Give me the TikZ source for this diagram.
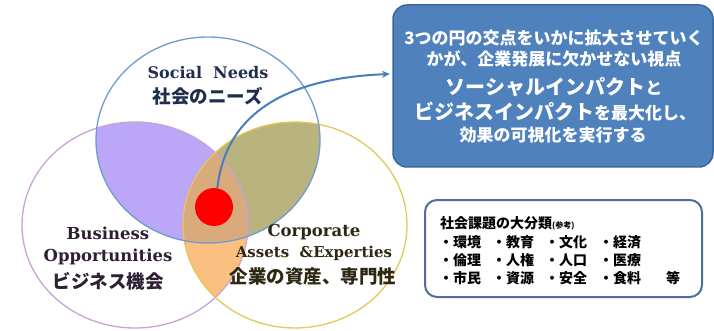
\documentclass[tikz,border=0pt]{standalone}
\usepackage{fontspec}
\setmainfont{DejaVu Serif}
\newfontfamily\jp{Noto Sans CJK JP}
\usetikzlibrary{arrows.meta}
\definecolor{lav}{HTML}{BBA6F7}
\definecolor{olv}{HTML}{B9B47D}
\definecolor{org}{HTML}{FAC080}
\definecolor{tanc}{HTML}{D9AA7C}
\definecolor{topline}{HTML}{6F9BD1}
\definecolor{leftline}{HTML}{C9A3D6}
\definecolor{rightline}{HTML}{E6C65C}
\definecolor{boxblue}{HTML}{4F81BD}
\definecolor{boxedge}{HTML}{3A679C}
\definecolor{arrowblue}{HTML}{4A7DBA}
\definecolor{framecol}{HTML}{4F6E9C}
\definecolor{navy}{HTML}{1F2D4F}
\definecolor{plum}{HTML}{2E1F33}
\definecolor{brownc}{HTML}{2E2812}
\tikzset{
  lbl/.style={inner sep=0pt, font=\bfseries\fontsize{16}{18}\selectfont},
  jplbl/.style={inner sep=0pt, font=\jp\bfseries\fontsize{18.5}{20}\selectfont},
  vline/.style={inner sep=0pt, text=white, font=\jp\bfseries\fontsize{17}{18}\selectfont},
  cline/.style={inner sep=0pt, anchor=west, text=black, font=\jp\bfseries\fontsize{14}{15}\selectfont},
  vbox/.style={draw=boxedge, fill=boxblue, line width=1.5pt, rounded corners=14pt,
    minimum width=320pt, minimum height=162pt, inner sep=0pt},
  cbox/.style={draw=framecol, fill=white, line width=2pt, rounded corners=12pt,
    minimum width=277pt, minimum height=97pt, inner sep=0pt},
  ring/.style={line width=1.3pt},
  link/.style={draw=arrowblue, line width=2pt, -{Stealth[length=8pt,width=7pt]}}
}
\begin{document}
\begin{tikzpicture}[x=1pt,y=-1pt]
\useasboundingbox (0,0) rectangle (714,331);
\def\TopC{(208,140) ellipse [x radius=112pt, y radius=103pt]}
\def\LeftC{(135,225) ellipse [x radius=113pt, y radius=103pt]}
\def\RightC{(295,225) ellipse [x radius=112pt, y radius=103pt]}
% region fills
\begin{scope}\clip \TopC; \fill[lav] \LeftC; \end{scope}
\begin{scope}\clip \TopC; \fill[olv] \RightC; \end{scope}
\begin{scope}\clip \LeftC; \fill[org] \RightC; \end{scope}
\begin{scope}\clip \TopC; \clip \LeftC; \fill[tanc] \RightC; \end{scope}
% outlines
\draw[ring, leftline] \LeftC;
\draw[ring, rightline] \RightC;
\draw[ring, topline] \TopC;
% circle labels
\node[lbl, text=navy] (sn) at (208,73) {Social~~Needs};
\node[jplbl, text=navy] (snj) at (208,96) {社会のニーズ};
\node[lbl, text=plum, font=\bfseries\fontsize{16.5}{18}\selectfont] (bo1) at (108,233) {Business};
\node[lbl, text=plum, font=\bfseries\fontsize{16.5}{18}\selectfont] (bo2) at (108,257) {Opportunities};
\node[jplbl, text=plum] (boj) at (108,281) {ビジネス機会};
\node[lbl, text=brownc, font=\bfseries\fontsize{16.5}{18}\selectfont] (ca1) at (314,232) {Corporate};
\node[lbl, text=brownc, font=\bfseries\fontsize{15}{18}\selectfont] (ca2) at (314,253) {Assets~~\&Experties};
\node[jplbl, text=brownc] (caj) at (313,276) {企業の資産、専門性};
% red dot
\node[circle, fill=red, minimum size=38pt, inner sep=0pt] (dot) at (214,207) {};
% blue box
\node[vbox] (vb) at (553,86) {};
\node[vline] (v1) at (554,38) {3つの円の交点をいかに拡大させていく};
\node[vline] (v2) at (554,59) {かが、企業発展に欠かせない視点};
\node[vline] (v3) at (554,87) {{\fontsize{20}{21}\selectfont ソーシャルインパクト}と};
\node[vline] (v4) at (555,112) {{\fontsize{20}{21}\selectfont ビジネスインパクト}を最大化し、};
\node[vline] (v5) at (553,135) {効果の可視化を実行する};
% arrow
\coordinate (tip) at (390,74);
\draw[link] (dot.80) .. controls (226,112) and (288,78) .. (tip);
% category box
\node[cbox] (cb) at (563.5,248.5) {};
\node[cline] (c0) at (440,223) {社会課題の大分類{\fontsize{8}{9}\selectfont (参考)}};
\node[cline] (c1) at (439,242) {\makebox[53pt][l]{・環境}\makebox[53pt][l]{・教育}\makebox[54pt][l]{・文化}・経済};
\node[cline] (c2) at (439,260) {\makebox[53pt][l]{・倫理}\makebox[53pt][l]{・人権}\makebox[54pt][l]{・人口}・医療};
\node[cline] (c3) at (439,278) {\makebox[53pt][l]{・市民}\makebox[53pt][l]{・資源}\makebox[54pt][l]{・安全}・食料\hspace{25pt}等};
\end{tikzpicture}
\end{document}
